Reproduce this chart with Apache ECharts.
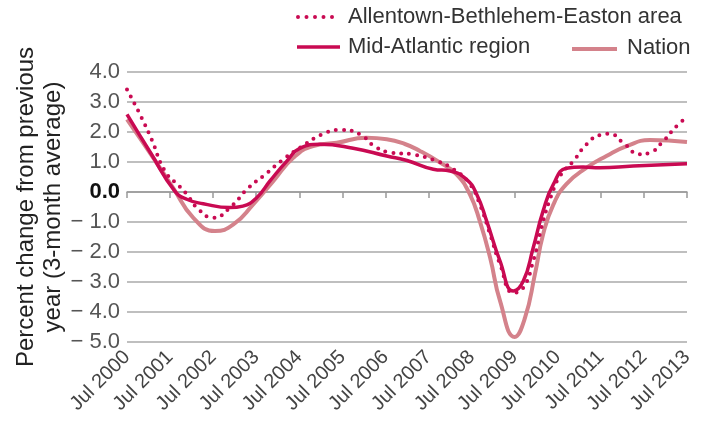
<!DOCTYPE html>
<html><head><meta charset="utf-8">
<script src="https://cdn.jsdelivr.net/npm/echarts@6/dist/echarts.min.js"></script>
<style>html,body{margin:0;padding:0;background:#fff}#c{width:706px;height:430px}</style>
</head><body><div id="c"></div>
<script>
// x = years since Jul 2000
const yearLabels = ['Jul 2000','Jul 2001','Jul 2002','Jul 2003','Jul 2004','Jul 2005','Jul 2006','Jul 2007','Jul 2008','Jul 2009','Jul 2010','Jul 2011','Jul 2012','Jul 2013'];
const seriesNames = ['Allentown-Bethlehem-Easton area','Mid-Atlantic region','Nation'];
const allentown = [[0,3.42],[0.3,2.59],[0.57,1.76],[0.88,0.7],[1.23,0.17],[1.39,-0.08],[1.66,-0.58],[2.0,-0.86],[2.39,-0.52],[2.82,0.14],[3.16,0.53],[3.63,1.09],[4.02,1.48],[4.56,1.94],[4.98,2.07],[5.41,1.92],[5.76,1.51],[6.14,1.31],[6.6,1.26],[7.19,1.03],[7.58,0.76],[7.96,0.26],[8.19,-0.41],[8.43,-1.41],[8.66,-2.41],[8.97,-3.36],[9.2,-3.19],[9.43,-2.3],[9.66,-0.97],[9.86,-0.08],[10.05,0.53],[10.36,1.03],[10.67,1.59],[10.98,1.9],[11.21,1.94],[11.52,1.64],[11.9,1.26],[12.14,1.31],[12.45,1.7],[12.76,2.2],[13.0,2.5]];
const midAtlantic = [[0,2.59],[0.55,1.3],[1.11,0.03],[1.4,-0.25],[1.77,-0.39],[2.39,-0.52],[2.69,-0.47],[3.01,-0.19],[3.32,0.37],[3.71,1.03],[4.02,1.46],[4.48,1.59],[5.25,1.46],[6.03,1.2],[6.5,1.05],[7.11,0.76],[7.5,0.7],[7.88,0.42],[8.12,-0.08],[8.35,-0.97],[8.66,-2.3],[8.97,-3.3],[9.2,-2.97],[9.43,-1.86],[9.66,-0.63],[9.9,0.26],[10.2,0.79],[10.59,0.83],[10.98,0.81],[11.75,0.87],[13.0,0.94]];
const nation = [[0,2.42],[0.61,1.14],[1.07,0.14],[1.54,-0.86],[2.04,-1.3],[2.47,-1.08],[2.93,-0.41],[3.4,0.37],[3.86,1.14],[4.32,1.53],[4.87,1.64],[5.56,1.81],[6.03,1.76],[6.45,1.6],[6.8,1.37],[7.27,0.98],[7.65,0.59],[7.96,-0.08],[8.19,-0.97],[8.43,-2.19],[8.66,-3.63],[9.0,-4.83],[9.24,-4.19],[9.47,-2.74],[9.66,-1.41],[9.9,-0.41],[10.2,0.26],[10.67,0.81],[11.13,1.2],[11.6,1.53],[12.14,1.73],[13.0,1.67]];

const dark = '#c90a52', light = '#d4828b';
const FF = 'Liberation Sans, Arial, sans-serif';
const chart = echarts.init(document.getElementById('c'));
const legText = {fontFamily:FF, fontSize:22, fill:'#333', verticalAlign:'middle', align:'left'};
chart.setOption({
  animation:false,
  grid:{left:127,right:19,top:72,bottom:88,outerBoundsMode:'none',containLabel:false},
  graphic:[
    {type:'line',shape:{x1:298,y1:17,x2:338,y2:17},style:{stroke:dark,lineWidth:4,lineDash:[0,8.5],lineCap:'round'}},
    {type:'text',x:348,y:17,style:Object.assign({text:seriesNames[0]},legText)},
    {type:'line',shape:{x1:297,y1:47,x2:340,y2:47},style:{stroke:dark,lineWidth:3.5}},
    {type:'text',x:348,y:47,style:Object.assign({text:seriesNames[1]},legText)},
    {type:'line',shape:{x1:572,y1:49,x2:617,y2:49},style:{stroke:light,lineWidth:4}},
    {type:'text',x:627,y:48,style:Object.assign({text:seriesNames[2]},legText)}
  ],
  xAxis:{type:'value',min:0,max:13,interval:1,
    axisLine:{show:true,lineStyle:{color:'#999',width:1.5}},
    axisTick:{show:true,length:6,lineStyle:{color:'#999',width:1.5}},
    splitLine:{show:false},
    axisLabel:{rotate:45,fontSize:20,color:'#444',fontFamily:FF,margin:12,
      formatter:v=>yearLabels[Math.round(v)]||''}
  },
  yAxis:{type:'value',min:-5,max:4,interval:1,
    name:'Percent change from previous\nyear (3-month average)',nameLocation:'middle',nameGap:60,nameRotate:90,
    nameMoveOverlap:false,
    nameTextStyle:{fontSize:24,color:'#222',fontFamily:FF,lineHeight:27},
    axisLine:{show:false},axisTick:{show:false},
    splitLine:{lineStyle:{color:'#aaa',width:1.5}},
    axisLabel:{fontSize:22,color:'#555',margin:7,fontFamily:FF,
      formatter:v=>{ if(v===0) return '{z|0.0}'; return v<0 ? '− '+Math.abs(v).toFixed(1) : v.toFixed(1); },
      rich:{z:{fontSize:22,color:'#111',fontWeight:'bold',fontFamily:FF}}}
  },
  series:[
    {name:seriesNames[2],type:'line',data:nation,smooth:0.5,showSymbol:false,symbol:'none',
      lineStyle:{color:light,width:4},itemStyle:{color:light},z:1},
    {name:seriesNames[1],type:'line',data:midAtlantic,smooth:0.5,showSymbol:false,symbol:'none',
      lineStyle:{color:dark,width:3.5},itemStyle:{color:dark},z:2},
    {name:seriesNames[0],type:'line',data:allentown,smooth:0.5,showSymbol:false,symbol:'none',
      lineStyle:{color:dark,width:4,type:[0,8],cap:'round'},itemStyle:{color:dark},z:3}
  ]
});
</script></body></html>
